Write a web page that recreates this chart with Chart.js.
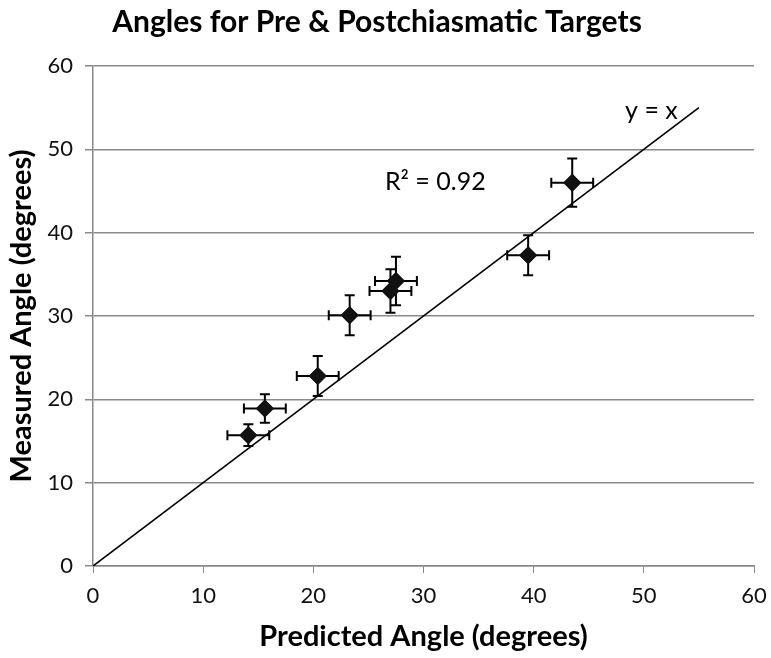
<!DOCTYPE html>
<html lang="en">
<head>
    <meta charset="UTF-8">
    <title>Angles for Pre &amp; Postchiasmatic Targets</title>
    <script src="https://cdn.jsdelivr.net/npm/chart.js"></script>
    <style>
        html, body { margin: 0; padding: 0; background: #fff; }
        #wrap { width: 771px; height: 658px; }
    </style>
</head>
<body>
    <div id="wrap"><canvas id="angleChart"></canvas></div>

    <script>
        // Data
        const predicted = [14.1, 15.6, 20.4, 23.3, 27.0, 27.5, 39.5, 43.5];
        const measured = [15.7, 18.9, 22.8, 30.1, 33.0, 34.2, 37.3, 46.0];
        const predictedErr = [1.9, 1.9, 1.9, 1.9, 1.9, 1.9, 1.9, 1.9];
        const measuredErr = [1.3, 1.7, 2.4, 2.4, 2.6, 2.9, 2.4, 2.9];
        const identityLine = [0, 55];

        const FONT = 'Lato, "Liberation Sans", sans-serif';
        const points = predicted.map((x, i) => ({ x: x, y: measured[i] }));

        // Draw horizontal + vertical error bars with caps
        const errorBars = {
            id: 'errorBars',
            afterDatasetsDraw(chart) {
                const { ctx, scales: { x, y } } = chart;
                const cap = 5;
                ctx.save();
                ctx.strokeStyle = '#000';
                ctx.lineWidth = 2;
                points.forEach((p, i) => {
                    const px = x.getPixelForValue(p.x), py = y.getPixelForValue(p.y);
                    const x0 = x.getPixelForValue(p.x - predictedErr[i]);
                    const x1 = x.getPixelForValue(p.x + predictedErr[i]);
                    const y0 = y.getPixelForValue(p.y - measuredErr[i]);
                    const y1 = y.getPixelForValue(p.y + measuredErr[i]);
                    ctx.beginPath();
                    ctx.moveTo(x0, py); ctx.lineTo(x1, py);
                    ctx.moveTo(x0, py - cap); ctx.lineTo(x0, py + cap);
                    ctx.moveTo(x1, py - cap); ctx.lineTo(x1, py + cap);
                    ctx.moveTo(px, y0); ctx.lineTo(px, y1);
                    ctx.moveTo(px - cap, y0); ctx.lineTo(px + cap, y0);
                    ctx.moveTo(px - cap, y1); ctx.lineTo(px + cap, y1);
                    ctx.stroke();
                });
                // redraw diamonds on top of the bars
                chart.getDatasetMeta(1).data.forEach(el => el.draw(ctx, chart.chartArea));
                ctx.restore();
            }
        };

        // Text labels inside the plot
        const plotLabels = {
            id: 'plotLabels',
            afterDraw(chart) {
                const { ctx, scales: { x, y } } = chart;
                ctx.save();
                ctx.fillStyle = '#000';
                ctx.font = '25px ' + FONT;
                ctx.textBaseline = 'middle';
                ctx.textAlign = 'left';
                ctx.fillText('y = x', x.getPixelForValue(48.3), y.getPixelForValue(54.6));
                ctx.fillText('R² = 0.92', x.getPixelForValue(26.5), y.getPixelForValue(46.1));
                ctx.restore();
            }
        };

        new Chart(document.getElementById('angleChart'), {
            type: 'scatter',
            data: {
                datasets: [{
                    label: 'y = x',
                    data: identityLine.map(v => ({ x: v, y: v })),
                    showLine: true,
                    borderColor: '#000',
                    borderWidth: 1.6,
                    pointRadius: 0,
                    order: 2
                }, {
                    label: 'Targets',
                    data: points,
                    pointStyle: 'rectRot',
                    pointRadius: 9,
                    backgroundColor: '#111',
                    borderColor: '#111',
                    borderWidth: 0,
                    order: 1
                }]
            },
            options: {
                responsive: true,
                maintainAspectRatio: false,
                animation: false,
                layout: { padding: { left: 0, right: 17, top: 0, bottom: 0 } },
                plugins: {
                    legend: { display: false },
                    tooltip: { enabled: false },
                    title: {
                        display: true,
                        text: 'Angles for Pre & Postchiasmatic Targets',
                        color: '#000',
                        font: { family: FONT, size: 30, weight: 'bold' },
                        padding: { top: 4, bottom: 26 }
                    }
                },
                scales: {
                    x: {
                        min: 0, max: 60,
                        afterFit: s => { s.height = 92; s.paddingRight = 0; },
                        ticks: { stepSize: 10, color: '#111', font: { family: FONT, size: 22 }, padding: 10 },
                        grid: { drawOnChartArea: false, tickLength: 7, color: '#888' },
                        border: { color: '#888', width: 1.5 },
                        title: {
                            display: true, text: 'Predicted Angle (degrees)', color: '#000',
                            font: { family: FONT, size: 29, weight: 'bold' }, padding: { top: 4, bottom: 4 }
                        }
                    },
                    y: {
                        min: 0, max: 60,
                        afterFit: s => { s.width = 93; },
                        ticks: { stepSize: 10, color: '#111', font: { family: FONT, size: 22 }, padding: 12 },
                        grid: { color: '#8a8a8a', lineWidth: 1.5, tickLength: 8 },
                        border: { color: '#888', width: 1.5 },
                        title: {
                            display: true, text: 'Measured Angle (degrees)', color: '#000',
                            font: { family: FONT, size: 29, weight: 'bold' }, padding: { top: 4, bottom: 4 }
                        }
                    }
                }
            },
            plugins: [errorBars, plotLabels]
        });
    </script>
</body>
</html>
